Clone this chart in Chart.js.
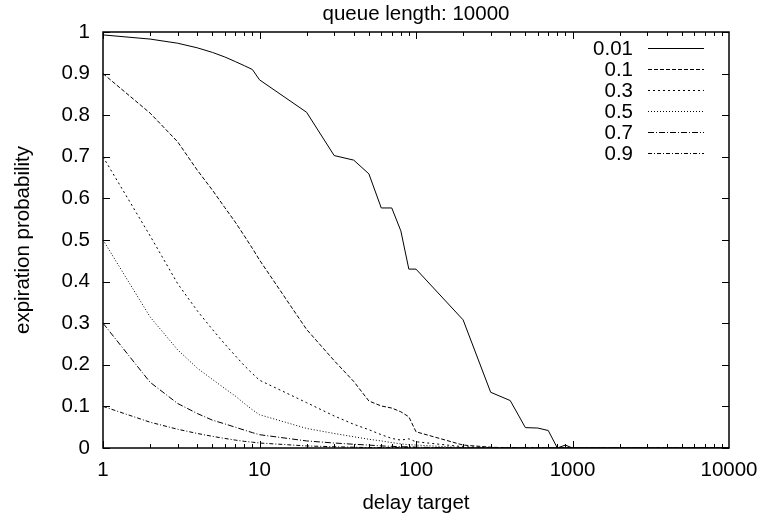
<!DOCTYPE html>
<html>
<head>
<meta charset="utf-8">
<script src="https://cdn.jsdelivr.net/npm/chart.js@4.4.0/dist/chart.umd.min.js"></script>
<style>
html, body { margin: 0; padding: 0; background: #fff; }
</style>
</head>
<body>
<canvas id="chart" width="761" height="517"></canvas>
<script>
const delays = [1, 2, 3, 4, 5, 6, 7, 8, 9, 10,
    20, 30, 40, 50, 60, 70, 80, 90, 100,
    200, 300, 400, 500, 600, 700, 800, 900, 1000,
    2000, 3000, 4000, 5000, 6000, 7000, 8000, 9000, 10000];

const seriesLabels = ['0.01', '0.1', '0.3', '0.5', '0.7', '0.9'];

const p001 = [0.993, 0.983, 0.973, 0.962, 0.951, 0.940, 0.929, 0.919, 0.910, 0.885,
    0.807, 0.703, 0.692, 0.659, 0.577, 0.577, 0.522, 0.430, 0.430,
    0.308, 0.134, 0.114, 0.049, 0.048, 0.042, 0, 0.007, 0,
    0, 0, 0, 0, 0, 0, 0, 0, 0];
const p01 = [0.900, 0.805, 0.736, 0.668, 0.620, 0.578, 0.543, 0.510, 0.480, 0.452,
    0.285, 0.210, 0.160, 0.113, 0.101, 0.096, 0.087, 0.075, 0.039,
    0.007, 0.002, 0, 0, 0, 0, 0, 0, 0,
    0, 0, 0, 0, 0, 0, 0, 0, 0];
const p03 = [0.700, 0.510, 0.395, 0.330, 0.285, 0.250, 0.222, 0.198, 0.179, 0.163,
    0.109, 0.077, 0.057, 0.044, 0.032, 0.023, 0.019, 0.022, 0.015,
    0.003, 0.001, 0, 0, 0, 0, 0, 0, 0,
    0, 0, 0, 0, 0, 0, 0, 0, 0];
const p05 = [0.500, 0.315, 0.236, 0.192, 0.165, 0.143, 0.125, 0.107, 0.092, 0.080,
    0.047, 0.035, 0.027, 0.021, 0.017, 0.013, 0.010, 0.008, 0.007,
    0.001, 0, 0, 0, 0, 0, 0, 0, 0,
    0, 0, 0, 0, 0, 0, 0, 0, 0];
const p07 = [0.300, 0.158, 0.107, 0.083, 0.067, 0.058, 0.050, 0.043, 0.037, 0.032,
    0.017, 0.012, 0.009, 0.007, 0.005, 0.004, 0.003, 0.003, 0.002,
    0, 0, 0, 0, 0, 0, 0, 0, 0,
    0, 0, 0, 0, 0, 0, 0, 0, 0];
const p09 = [0.100, 0.062, 0.045, 0.035, 0.028, 0.023, 0.019, 0.016, 0.014, 0.012,
    0.005, 0.003, 0.002, 0.001, 0.001, 0.001, 0.001, 0.001, 0,
    0, 0, 0, 0, 0, 0, 0, 0, 0,
    0, 0, 0, 0, 0, 0, 0, 0, 0];

const xTicks = [1, 10, 100, 1000, 10000];
const yTicks = [0, 0.1, 0.2, 0.3, 0.4, 0.5, 0.6, 0.7, 0.8, 0.9, 1];
const chartTitle = 'queue length: 10000';

const allSeries = [p001, p01, p03, p05, p07, p09];
const dashes = [[], [4, 2], [2, 3], [1, 2], [6, 2, 1, 2], [4, 2, 1, 2]];

const font = { family: '"Liberation Sans", Arial, sans-serif', size: 20.5 };

// gnuplot style box: title over the plot, border, inward ticks on all four sides, key on the right
const framePlugin = {
    id: 'frame',
    afterDraw(chart) {
        const ctx = chart.ctx;
        const a = chart.chartArea;
        const x = chart.scales.x;
        const y = chart.scales.y;
        ctx.save();
        ctx.fillStyle = '#000';
        ctx.font = font.size + 'px ' + font.family;
        ctx.textAlign = 'center';
        ctx.textBaseline = 'middle';
        ctx.fillText(chartTitle, (a.left + a.right) / 2, 14);

        ctx.strokeStyle = '#000';
        ctx.lineWidth = 1;
        ctx.beginPath();
        for (let d = 1; d < 10000; d *= 10) {
            for (let m = 1; m < 10; m++) {
                const px = Math.round(x.getPixelForValue(d * m)) + 0.5;
                const len = m === 1 ? 7 : 4;
                ctx.moveTo(px, a.bottom); ctx.lineTo(px, a.bottom - len);
                ctx.moveTo(px, a.top); ctx.lineTo(px, a.top + len);
            }
        }
        yTicks.forEach(v => {
            const py = Math.round(y.getPixelForValue(v)) + 0.5;
            ctx.moveTo(a.left, py); ctx.lineTo(a.left + 7, py);
            ctx.moveTo(a.right, py); ctx.lineTo(a.right - 7, py);
        });
        ctx.stroke();
        ctx.lineWidth = 1.5;
        ctx.strokeRect(a.left, a.top, a.right - a.left, a.bottom - a.top);

        ctx.textAlign = 'right';
        chart.data.datasets.forEach((ds, i) => {
            const cy = Math.round(a.top + 16 + i * 20.9) + 0.5;
            ctx.fillText(ds.label, a.right - 96, cy + 1);
            ctx.lineWidth = 1;
            ctx.setLineDash(ds.borderDash);
            ctx.beginPath();
            ctx.moveTo(a.right - 81, cy);
            ctx.lineTo(a.right - 25, cy);
            ctx.stroke();
        });
        ctx.restore();
    }
};

new Chart(document.getElementById('chart'), {
    type: 'line',
    data: {
        datasets: allSeries.map((s, i) => ({
            label: seriesLabels[i],
            data: delays.map((d, j) => ({ x: d, y: s[j] })),
            borderColor: '#000',
            borderWidth: 1,
            borderDash: dashes[i],
            pointRadius: 0,
            tension: 0,
            fill: false
        }))
    },
    options: {
        responsive: false,
        animation: false,
        layout: { padding: { top: 32, right: 32 } },
        plugins: {
            legend: { display: false },
            tooltip: { enabled: false },
            title: { display: false }
        },
        scales: {
            x: {
                type: 'logarithmic',
                min: 1,
                max: 10000,
                grid: { display: false, drawTicks: false },
                border: { display: false },
                afterBuildTicks: s => { s.ticks = xTicks.map(v => ({ value: v })); },
                afterFit: s => {
                    s.height = 69;
                    s.paddingLeft = 0;
                    s.paddingRight = 0;
                },
                ticks: {
                    color: '#000',
                    font: font,
                    padding: 10,
                    maxRotation: 0,
                    autoSkip: false,
                    callback: v => String(v)
                },
                title: {
                    display: true,
                    text: 'delay target',
                    color: '#000',
                    font: font,
                    padding: { top: 0, bottom: 1 }
                }
            },
            y: {
                min: 0,
                max: 1,
                grid: { display: false, drawTicks: false },
                border: { display: false },
                afterBuildTicks: s => { s.ticks = yTicks.map(v => ({ value: v })); },
                afterFit: s => {
                    s.width = 103;
                    s.paddingTop = 0;
                    s.paddingBottom = 0;
                },
                ticks: {
                    color: '#000',
                    font: font,
                    padding: 13,
                    callback: v => String(v)
                },
                title: {
                    display: true,
                    text: 'expiration probability',
                    color: '#000',
                    font: font,
                    padding: { top: 11, bottom: 0 }
                }
            }
        }
    },
    plugins: [framePlugin]
});
</script>
</body>
</html>
